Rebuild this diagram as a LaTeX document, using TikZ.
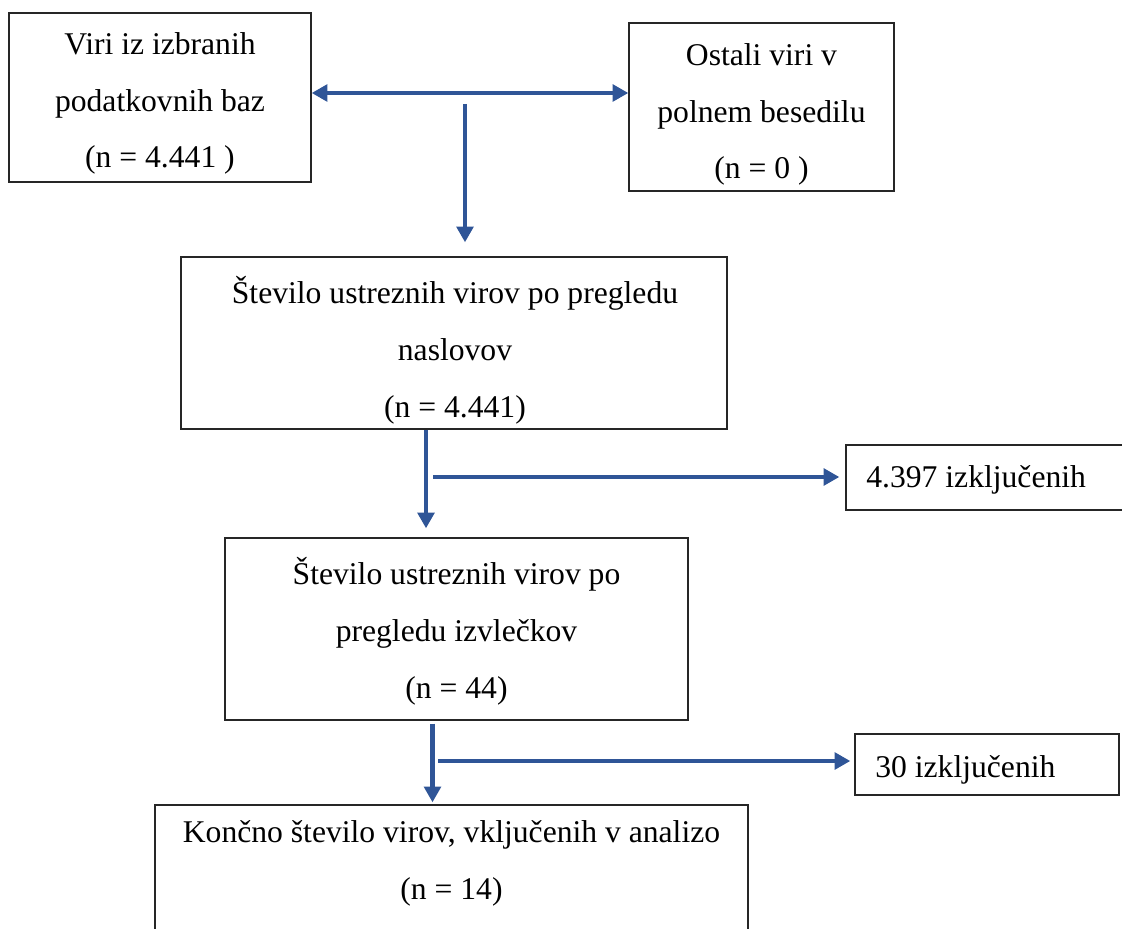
\documentclass[tikz,border=0pt]{standalone}
\usepackage{fontspec}
\setmainfont{Liberation Serif}
\usetikzlibrary{arrows.meta,calc}
\definecolor{flowblue}{HTML}{2F5597}

\begin{document}
\begin{tikzpicture}[
    x=0.02cm, y=-0.02cm,
    frame/.style={draw=black!85, line width=0.8pt, inner sep=0pt},
    txt/.style={align=center, font=\fontsize{18}{32.4}\selectfont, inner sep=0pt, anchor=base},
    arr/.style={draw=flowblue, line width=2.3pt, -{Triangle[length=9pt,width=9.5pt]}},
    arrboth/.style={draw=flowblue, line width=2.3pt, {Triangle[length=9pt,width=9.5pt]}-{Triangle[length=9pt,width=9.5pt]}}
]
\useasboundingbox (0,0) rectangle (1122,929);

% okvirji
\node[frame, minimum width=6.04cm, minimum height=3.38cm] (baze) at (160,97.5) {};
\node[frame, minimum width=5.3cm, minimum height=3.36cm] (ostali) at (761.5,107) {};
\node[frame, minimum width=10.92cm, minimum height=3.44cm] (naslovi) at (454,343) {};
\node[frame, minimum width=5.68cm, minimum height=1.3cm] (izkl1) at (988,477.5) {};
\node[frame, minimum width=9.26cm, minimum height=3.64cm] (izvlecki) at (456.5,629) {};
\node[frame, minimum width=5.28cm, minimum height=1.22cm] (izkl2) at (987,764.5) {};
\node[frame, minimum width=11.86cm, minimum height=3.1cm] (koncno) at (451.5,882.5) {};

% besedila (sidro = osnovnica zadnje vrstice)
\node[txt] (bazeT) at (160,168) {Viri iz izbranih\\podatkovnih baz\\(n = 4.441 )};
\node[txt] (ostaliT) at (761.5,179) {Ostali viri v\\polnem besedilu\\(n = 0 )};
\node[txt] (nasloviT) at (455,417) {Število ustreznih virov po pregledu\\naslovov\\(n = 4.441)};
\node[txt] (izvleckiT) at (456.5,698) {Število ustreznih virov po\\pregledu izvlečkov\\(n = 44)};
\node[txt] (koncnoT) at (451.5,899) {Končno število virov, vključenih v analizo\\(n = 14)};
\node[txt, anchor=base west] (izkl1T) at (866,487) {4.397 izključenih};
\node[txt, anchor=base west] (izkl2T) at (875,777) {30 izključenih};

% puščice
\draw[arrboth] ([yshift=0.09cm]baze.east) -- ([yshift=0.09cm]baze.east -| ostali.west);
\coordinate (drop) at (465,104);
\draw[arr, shorten >=0.28cm] (drop) -- (drop |- naslovi.north);

\coordinate (c1) at ($(naslovi.south)+(-28,0)$);
\draw[arr, shorten >=0.18cm] (c1) -- (c1 |- izvlecki.north);
\coordinate (odcep1) at (433,477);
\draw[arr, shorten >=0.12cm] (odcep1) -- (odcep1 -| izkl1.west);

\coordinate (c2) at ($(izvlecki.south)+(-24,3)$);
\draw[arr, shorten >=0.04cm] (c2) -- (c2 |- koncno.north);
\coordinate (odcep2) at (438,761);
\draw[arr, shorten >=0.08cm] (odcep2) -- (odcep2 -| izkl2.west);
\end{tikzpicture}
\end{document}
